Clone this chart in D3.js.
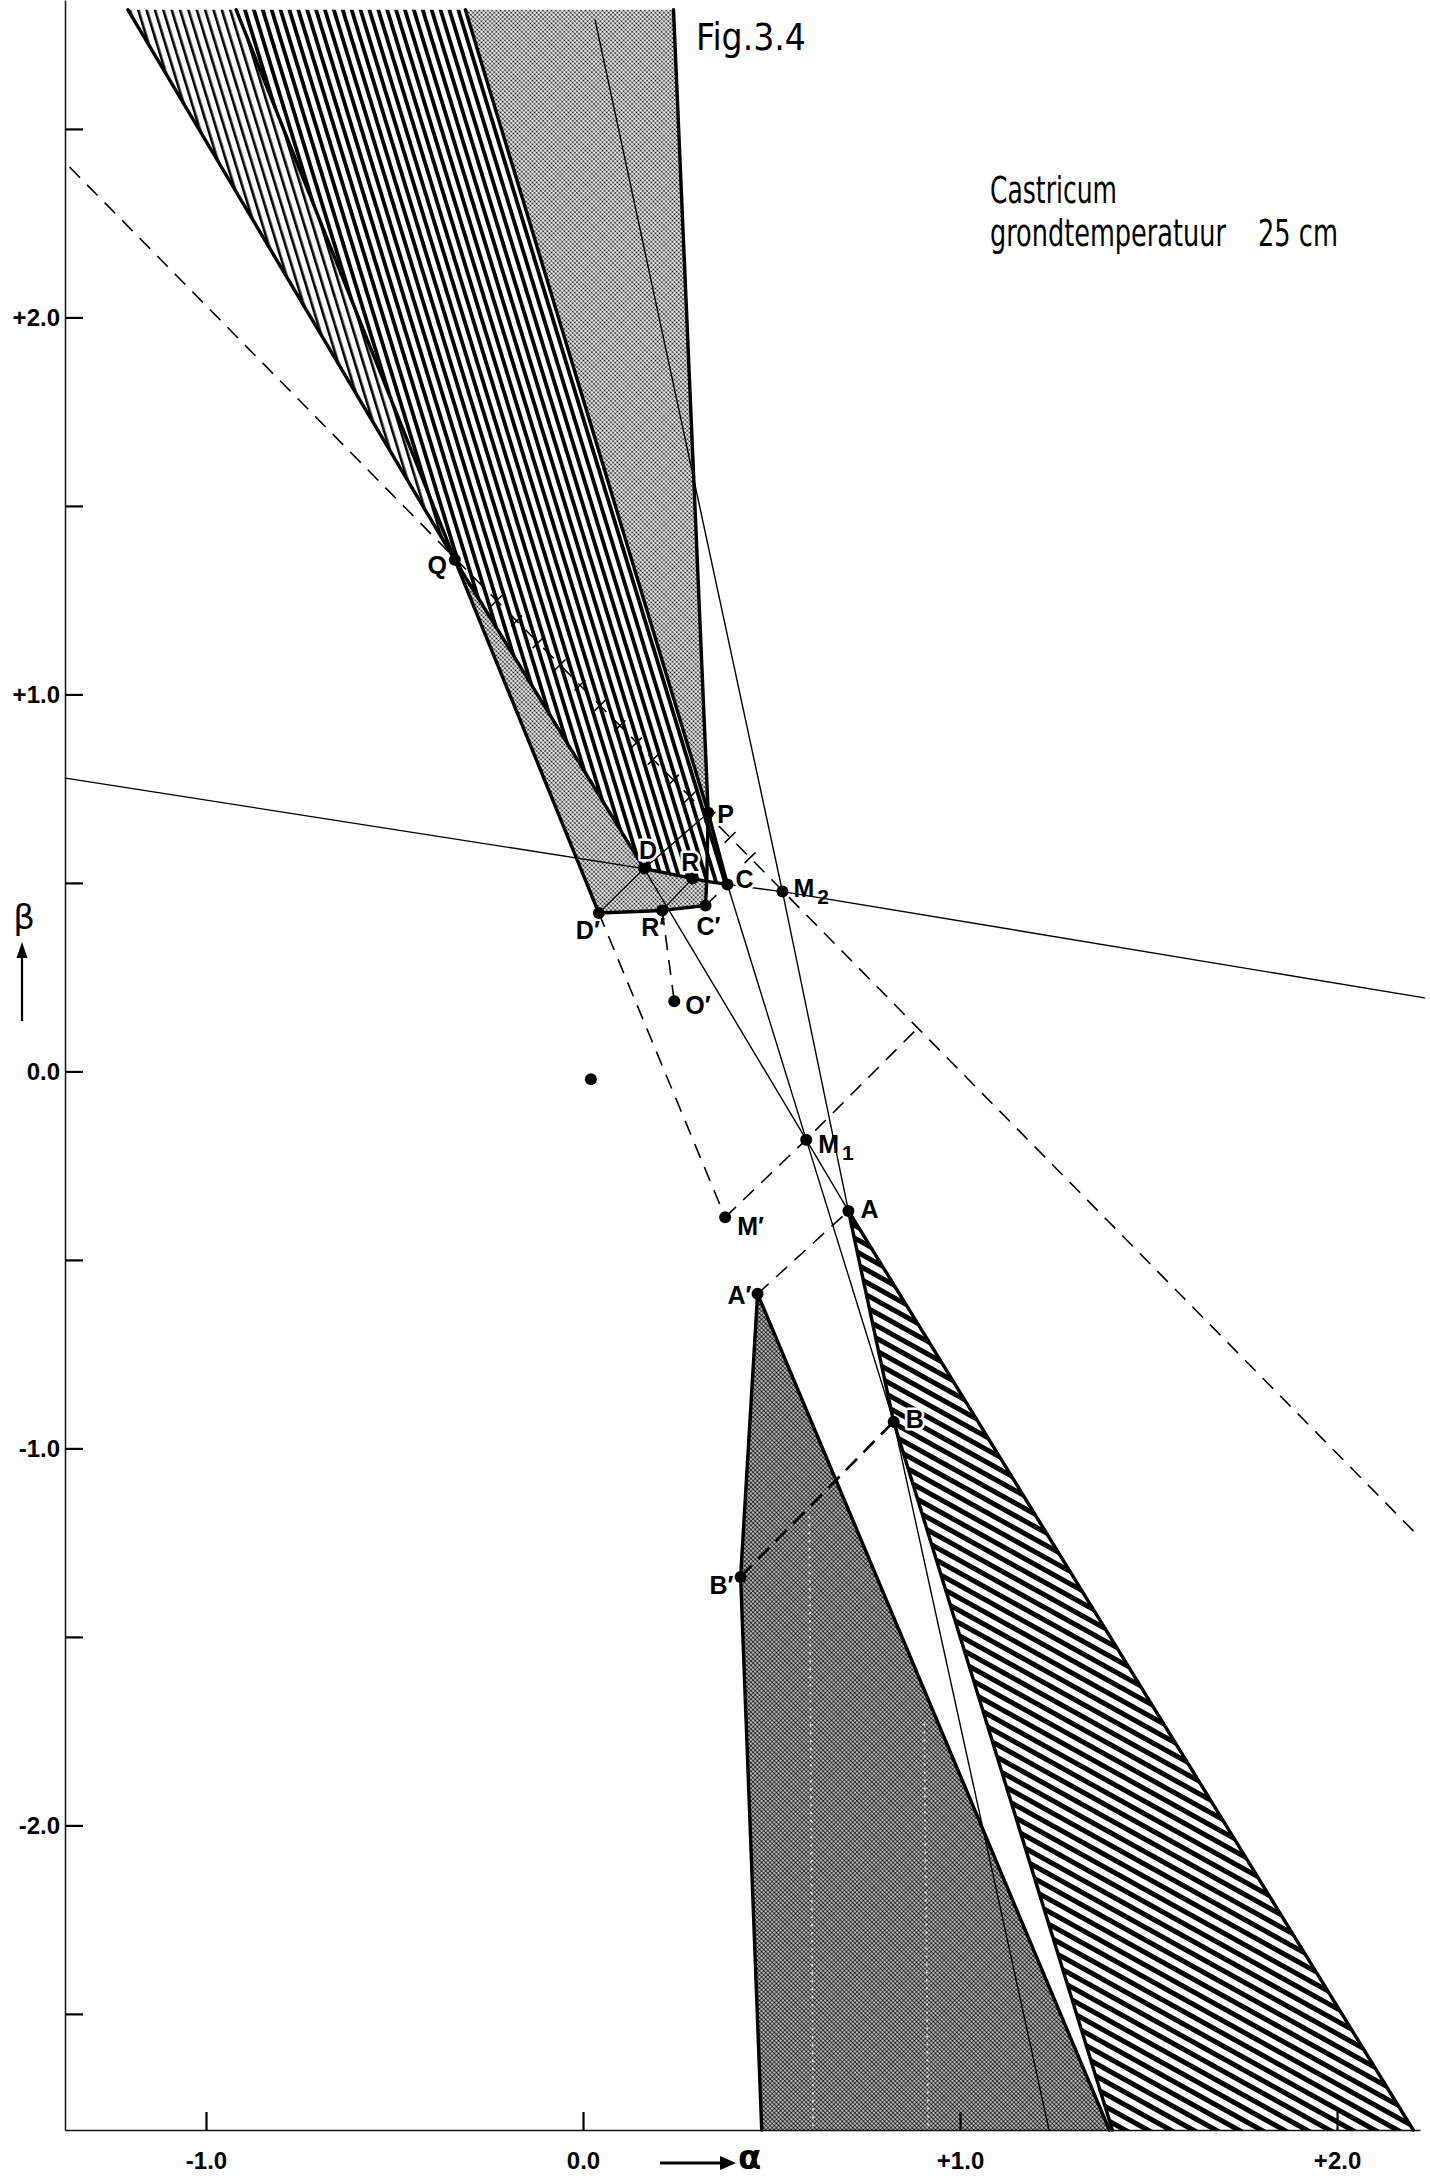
<!DOCTYPE html>
<html>
<head>
<meta charset="utf-8">
<script src="https://cdn.jsdelivr.net/npm/d3@7"></script>
<style>
  html, body { margin: 0; padding: 0; background: #fff; }
  svg { display: block; }
</style>
</head>
<body>
<script>
// ---------- data (alpha, beta) ----------
// labelled construction points
const pointIds   = ["Q", "P", "D", "R", "C", "M2", "D'", "R'", "C'", "O'", "O", "M1", "M'", "A", "A'", "B", "B'"];
const pointAlpha = [-0.340, 0.332, 0.162, 0.290, 0.383, 0.529, 0.042, 0.210, 0.325, 0.242, 0.021, 0.592, 0.377, 0.704, 0.463, 0.824, 0.418];
const pointBeta  = [ 1.357, 0.686, 0.538, 0.512, 0.496, 0.477, 0.420, 0.427, 0.440, 0.186, -0.021, -0.181, -0.387, -0.370, -0.590, -0.929, -1.341];

// where bands and guide lines meet the frame
const edgeIds   = ["T1", "T2", "T3", "T4", "X1", "X", "G1", "G2", "H1", "H2", "K1", "K2", "L1", "L2", "N1", "N2"];
const edgeAlpha = [-1.207, -0.920, -0.312, 0.240, 0.328, 0.887, 0.474, 1.396, 1.404, 2.202, -1.362, 2.220, -1.373, 2.232, 0.032, 1.236];
const edgeBeta  = [ 2.816,  2.816,  2.816, 2.816, 0.504, 0.114, -2.808, -2.808, -2.808, -2.808, 2.399, -1.237, 0.778, 0.195, 2.789, -2.808];

// shaded regions (vertex lists)
const hatchLightBand = ["T1", "T2", "Q"];
const hatchUpperBand = ["T2", "T3", "P", "C", "R", "D", "Q"];
const stippleTopBand = ["T3", "T4", "P"];
const stippleMidArea = ["Q", "D", "R", "X1", "C'", "R'", "D'"];
const stippleLowArea = ["A'", "B'", "G1", "G2"];
const hatchLowArea   = ["A", "B", "H1", "H2"];

// line work
const heavyLines  = [["T1", "Q"], ["T2", "Q", "D'"], ["Q", "D", "R", "X1", "C"], ["T3", "P", "C"], ["T4", "P"],
                     ["P", "X1", "C'"], ["C'", "R'", "D'"], ["A", "B", "H1"], ["A", "H2"], ["A'", "B'", "G1"], ["A'", "G2"]];
const fineLines   = [["L1", "D"], ["C", "M2", "L2"], ["D", "M1", "A"], ["C", "M1", "B"], ["N1", "M2", "A", "B", "N2"],
                     ["D", "D'"], ["R", "R'"], ["D", "P"]];
const dashedLines = [["K1", "K2"], ["D'", "M'"], ["M'", "M1", "X"], ["R'", "O'"], ["A'", "A"], ["C'", "C"]];
const heavyDashed = [["B'", "B"]];

// scale marks along the line Q-P-M2 (alpha positions)
const scaleMarkAlpha = [-0.229, -0.176, -0.119, -0.061, -0.008, 0.045, 0.098, 0.142, 0.186, 0.240, 0.284, 0.337, 0.390, 0.443];

// light seams in the lower tone sheet
const seamAlpha   = [0.600, 0.905];
const seamTopBeta = [-1.18, -1.73];

// axes
const xTickValues = [-1, 0, 1, 2];
const xTickLabels = ["-1.0", "0.0", "+1.0", "+2.0"];
const yTickValues = [-2.5, -2, -1.5, -1, -0.5, 0, 0.5, 1, 1.5, 2, 2.5];
const yTickLabels = ["", "-2.0", "", "-1.0", "", "0.0", "", "+1.0", "", "+2.0", ""];

// ---------- layout ----------
const W = 1430, H = 2179;
const x = d3.scaleLinear().domain([-1.374, 2.220]).range([65, 1420]);
const y = d3.scaleLinear().domain([-2.808, 2.842]).range([2130, 0]);

const svg = d3.select("body").append("svg")
  .attr("width", W).attr("height", H).attr("viewBox", `0 0 ${W} ${H}`);
svg.append("rect").attr("width", W).attr("height", H).attr("fill", "#fff");

const defs = svg.append("defs");
function stripes(id, period, thick, angle) {
  const p = defs.append("pattern").attr("id", id).attr("patternUnits", "userSpaceOnUse")
    .attr("width", period).attr("height", period).attr("patternTransform", `rotate(${angle})`);
  p.append("rect").attr("width", period).attr("height", period).attr("fill", "#fff");
  p.append("rect").attr("width", thick).attr("height", period).attr("fill", "#000");
}
function dots(id, step, r) {
  const p = defs.append("pattern").attr("id", id).attr("patternUnits", "userSpaceOnUse")
    .attr("width", step).attr("height", step).attr("patternTransform", "rotate(45)");
  p.append("rect").attr("width", step).attr("height", step).attr("fill", "#fff");
  p.append("circle").attr("cx", step / 2).attr("cy", step / 2).attr("r", r).attr("fill", "#000");
}
stripes("hatchLight", 8.0, 2.6, -17);
stripes("hatchUpper", 8.5, 3.8, -17);
stripes("hatchLow", 11, 5, -61);
dots("stippleLight", 3, 1.05);
dots("stippleDark", 3, 1.25);

const pos = new Map();
pointIds.forEach((id, i) => pos.set(id, [pointAlpha[i], pointBeta[i]]));
edgeIds.forEach((id, i) => pos.set(id, [edgeAlpha[i], edgeBeta[i]]));
const px = id => x(pos.get(id)[0]);
const py = id => y(pos.get(id)[1]);
const path = d3.line().x(px).y(py);

// ---------- shaded regions ----------
const fills = svg.append("g");
[[hatchLightBand, "hatchLight"], [hatchUpperBand, "hatchUpper"], [stippleTopBand, "stippleLight"],
 [stippleMidArea, "stippleLight"], [stippleLowArea, "stippleDark"], [hatchLowArea, "hatchLow"]]
  .forEach(([poly, pat]) => {
    fills.append("path").attr("d", path(poly) + "Z").attr("fill", `url(#${pat})`);
  });

// seams of the tone sheet, kept inside the lower tone area
defs.append("clipPath").attr("id", "lowClip").append("path").attr("d", path(stippleLowArea) + "Z");
const seams = svg.append("g").attr("clip-path", "url(#lowClip)");
seamAlpha.forEach((a, i) => {
  seams.append("line")
    .attr("x1", x(a)).attr("x2", x(a) + 4)
    .attr("y1", y(seamTopBeta[i])).attr("y2", y(-2.808))
    .attr("stroke", "#fff").attr("stroke-width", 1.8).attr("stroke-dasharray", "2 6")
    .attr("opacity", 0.85);
});

// ---------- lines ----------
const lines = svg.append("g").attr("fill", "none").attr("stroke", "#000")
  .attr("stroke-linejoin", "round").attr("stroke-linecap", "round");
fineLines.forEach(l => lines.append("path").attr("d", path(l)).attr("stroke-width", 1.4));
dashedLines.forEach(l => lines.append("path").attr("d", path(l))
  .attr("stroke-width", 1.6).attr("stroke-dasharray", "15 10").attr("stroke-linecap", "butt"));
heavyDashed.forEach(l => lines.append("path").attr("d", path(l))
  .attr("stroke-width", 2.6).attr("stroke-dasharray", "16 9").attr("stroke-linecap", "butt"));
heavyLines.forEach(l => lines.append("path").attr("d", path(l)).attr("stroke-width", 3.4));

// scale marks across the line Q-P-M2
{
  const ax = px("K1"), ay = py("K1"), bx = px("K2"), by = py("K2");
  const len = Math.hypot(bx - ax, by - ay);
  const nx = -(by - ay) / len, ny = (bx - ax) / len;
  scaleMarkAlpha.forEach(a => {
    const t = (x(a) - ax) / (bx - ax);
    const cx = ax + t * (bx - ax), cy = ay + t * (by - ay);
    lines.append("line")
      .attr("x1", cx - nx * 7).attr("y1", cy - ny * 7)
      .attr("x2", cx + nx * 7).attr("y2", cy + ny * 7)
      .attr("stroke-width", 1.6);
  });
}

// ---------- points ----------
svg.append("g").selectAll("circle").data(pointIds).join("circle")
  .attr("cx", px).attr("cy", py).attr("r", 6).attr("fill", "#000");

// ---------- point labels ----------
const labelText = { "Q": "Q", "P": "P", "D": "D", "R": "R", "C": "C", "M2": "M", "D'": "D\u2032", "R'": "R\u2032",
  "C'": "C\u2032", "O'": "O\u2032", "M1": "M", "M'": "M\u2032", "A": "A", "A'": "A\u2032", "B": "B", "B'": "B\u2032" };
const labelSub = { "M2": "2", "M1": "1" };
const labelOffset = {
  "Q": [-8, 14, "end"], "P": [9, 10, "start"], "D": [-5, -10, "start"], "R": [-11, -7, "start"],
  "C": [8, 4, "start"], "M2": [11, 5, "start"], "D'": [-23, 26, "start"], "R'": [-21, 26, "start"],
  "C'": [-9, 29, "start"], "O'": [11, 13, "start"], "M1": [12, 13, "start"], "M'": [12, 18, "start"],
  "A": [12, 7, "start"], "A'": [-6, 10, "end"], "B": [12, 6, "start"], "B'": [-7, 17, "end"]
};
// letters sitting on the hatching get a cleared margin
const haloed = new Set(["D", "R", "P", "C", "B"]);
const labels = svg.append("g")
  .attr("font-family", "'Liberation Sans', 'DejaVu Sans', Arial, sans-serif")
  .attr("font-weight", "bold").attr("font-size", 25).attr("fill", "#000");
Object.keys(labelText).forEach(id => {
  const [dx, dy, anchor] = labelOffset[id];
  const t = labels.append("text").attr("x", px(id) + dx).attr("y", py(id) + dy)
    .attr("text-anchor", anchor).text(labelText[id]);
  if (haloed.has(id)) t.attr("stroke", "#fff").attr("stroke-width", 5)
    .attr("stroke-linejoin", "round").attr("paint-order", "stroke");
  if (labelSub[id]) t.append("tspan").attr("dx", 3).attr("dy", 7).attr("font-size", 21).text(labelSub[id]);
});

// ---------- axes ----------
const axisFont = "'Liberation Sans', 'DejaVu Sans', Arial, sans-serif";
const yAxis = svg.append("g").attr("transform", `translate(${x(-1.374)},0)`)
  .call(d3.axisLeft(y).tickValues(yTickValues).tickSizeInner(-18).tickSizeOuter(0).tickPadding(5)
    .tickFormat((d, i) => yTickLabels[i]));
const xAxis = svg.append("g").attr("transform", `translate(0,${y(-2.808)})`)
  .call(d3.axisBottom(x).tickValues(xTickValues).tickSizeInner(-18).tickSizeOuter(0).tickPadding(22)
    .tickFormat((d, i) => xTickLabels[i]));
[yAxis, xAxis].forEach(g => {
  g.select(".domain").attr("stroke", "#111").attr("stroke-width", 1.5);
  g.selectAll(".tick line").attr("stroke", "#000").attr("stroke-width", 2.2);
  g.selectAll(".tick text").attr("font-family", axisFont).attr("font-weight", "bold")
    .attr("font-size", 24).attr("fill", "#000");
});

// axis names with arrows
const names = svg.append("g").attr("fill", "#000");
names.append("text").attr("x", 24).attr("y", 929).attr("text-anchor", "middle")
  .attr("font-family", "'DejaVu Sans', sans-serif").attr("font-size", 34).text("β");
names.append("line").attr("x1", 22).attr("x2", 22).attr("y1", 1021).attr("y2", 952)
  .attr("stroke", "#000").attr("stroke-width", 2.2);
names.append("path").attr("d", "M22,942 L16.5,958 L27.5,958 Z");
names.append("line").attr("x1", 660).attr("x2", 722).attr("y1", 2163).attr("y2", 2163)
  .attr("stroke", "#000").attr("stroke-width", 3.2);
names.append("path").attr("d", "M736,2163 L720,2156 L720,2170 Z");
names.append("text").attr("x", 738).attr("y", 2169)
  .attr("font-family", "'DejaVu Sans', sans-serif").attr("font-weight", "bold").attr("font-size", 34).text("α");

// ---------- title block ----------
// each line is set in a condensed face and squeezed horizontally to its measured width
const titleFont = "'DejaVu Sans Condensed', 'Liberation Sans Narrow', 'Liberation Sans', sans-serif";
const title = svg.append("g").attr("font-family", titleFont).attr("fill", "#000");
function fitted(str, left, base, size, width) {
  const t = title.append("text").attr("font-size", size).text(str);
  const natural = t.node().getComputedTextLength();
  t.attr("transform", `translate(${left},${base}) scale(${width / natural},1)`);
}
fitted("Fig.3.4", 696, 50, 37, 110);
fitted("Castricum", 990, 203, 38, 127);
fitted("grondtemperatuur", 990, 246, 38, 236);
fitted("25 cm", 1258, 246, 38, 80);
</script>
</body>
</html>
